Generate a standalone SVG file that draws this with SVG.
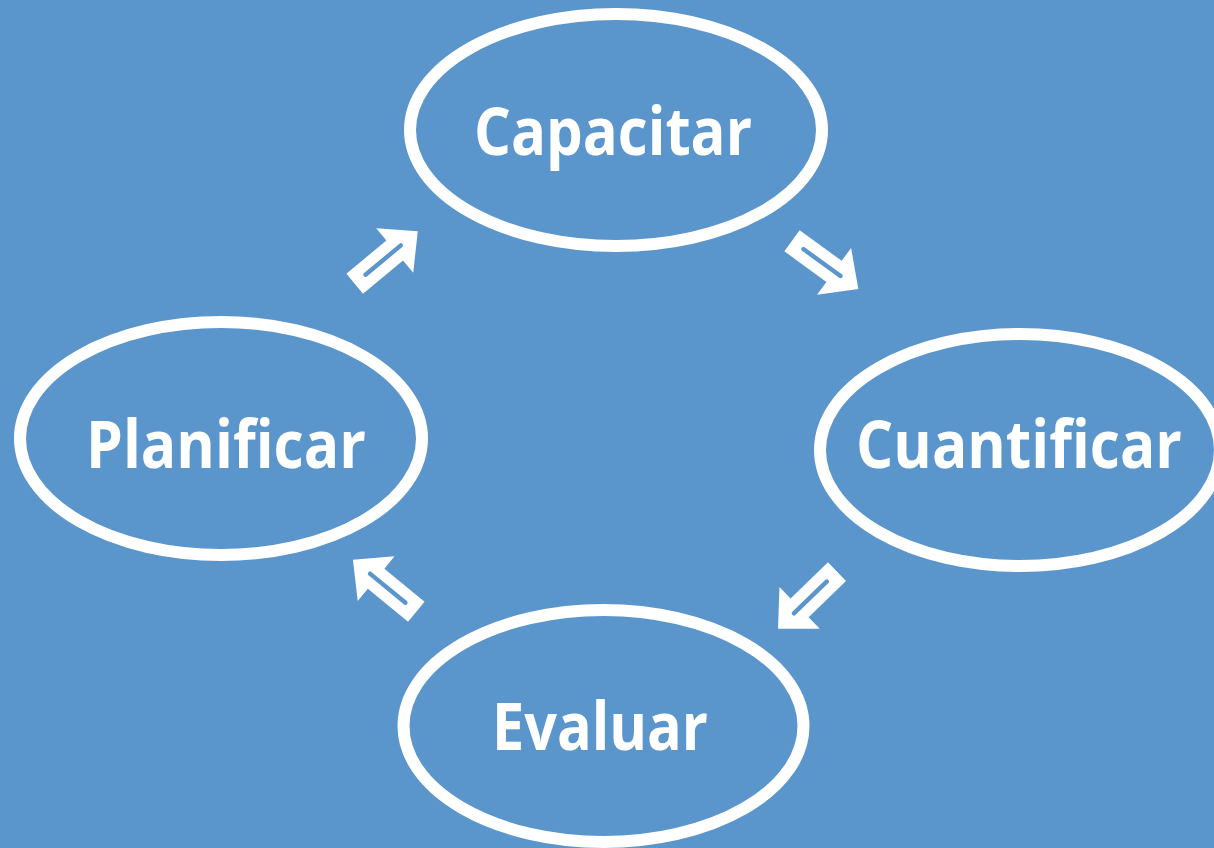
<svg xmlns="http://www.w3.org/2000/svg" xmlns:xlink="http://www.w3.org/1999/xlink" width="1214" height="848" viewBox="0 0 1214 848">
<style>
.node ellipse{fill:none;stroke:#ffffff;stroke-width:12}
.node text{font-family:"Open Sans","Noto Sans","DejaVu Sans",sans-serif;font-weight:bold;font-size:67px;fill:#ffffff;text-anchor:middle}
</style>
<defs>
<g id="arr">
<polygon points="0,-13 52,-13 52,-29 82,0 52,29 52,13 0,13" fill="#ffffff"/>
<rect x="12" y="-2.2" width="50" height="4.4" rx="2" fill="#5a95cb"/>
</g>
</defs>
<rect width="1214" height="848" fill="#5a95cb"/>
<g id="node-capacitar" class="node">
<ellipse cx="616" cy="130" rx="206" ry="116"/>
<text x="613" y="155" textLength="278" lengthAdjust="spacingAndGlyphs">Capacitar</text>
</g>
<g id="node-cuantificar" class="node">
<ellipse cx="1020" cy="450" rx="200" ry="116"/>
<text x="1019" y="468" textLength="326" lengthAdjust="spacingAndGlyphs">Cuantificar</text>
</g>
<g id="node-evaluar" class="node">
<ellipse cx="603.5" cy="726" rx="200" ry="116"/>
<text x="600" y="750" textLength="216" lengthAdjust="spacingAndGlyphs">Evaluar</text>
</g>
<g id="node-planificar" class="node">
<ellipse cx="221" cy="438.5" rx="201" ry="116.5"/>
<text x="226" y="468" textLength="280" lengthAdjust="spacingAndGlyphs">Planificar</text>
</g>
<g id="connectors">
<use xlink:href="#arr" transform="translate(354.7,283.7) rotate(-39.7)"/>
<use xlink:href="#arr" transform="translate(792,240.8) rotate(36)"/>
<use xlink:href="#arr" transform="translate(837,571.7) rotate(136)"/>
<use xlink:href="#arr" transform="translate(416.3,611.7) rotate(-140.6)"/>
</g>
</svg>
